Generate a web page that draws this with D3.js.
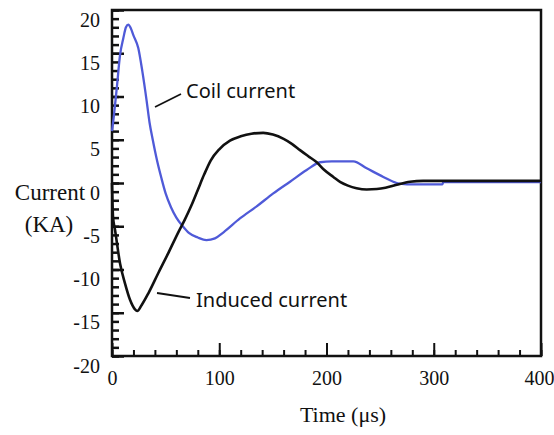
<!DOCTYPE html>
<html>
<head>
<meta charset="utf-8">
<script src="https://cdn.jsdelivr.net/npm/d3@7"></script>
<style>
  body { margin: 0; background: #fff; }
  .tick text { font-family: "Liberation Serif", "Times New Roman", serif; font-size: 20px; fill: #111; }
</style>
</head>
<body>
<div id="chart"></div>
<script>
// coil current (blue), time in µs / current in kA
const coilTime = [0, 1.5, 4.4, 7.5, 10.5, 13, 15.2, 17.5, 19.9, 24.5, 28.3, 32.3, 35, 38, 42, 46, 50, 55, 60, 66, 72, 80, 88, 96, 104, 119.3, 134.9, 150.4, 166, 181.5, 194, 205, 225, 237.5, 253, 265.5, 275, 308, 309, 400];
const coilCurrent = [6, 7.5, 10.9, 14.8, 16.7, 18, 18.3, 17.9, 17.1, 15.6, 12.9, 9.5, 7.0, 5.0, 2.6, 0.6, -1.2, -2.8, -4.0, -5.0, -5.8, -6.3, -6.6, -6.4, -5.7, -4.1, -2.7, -1.2, 0.15, 1.5, 2.4, 2.5, 2.5, 1.7, 0.7, 0, -0.15, -0.15, 0.1, 0.1];

// induced current (black)
const inducedTime = [0, 1, 2.8, 7.5, 12.1, 16.8, 21.4, 23.5, 27.7, 33.9, 43.2, 52.5, 61.8, 68, 74, 80, 86, 92, 100, 110, 120, 130, 141, 150, 160, 168, 175.3, 183, 190.9, 198, 206.4, 213, 220, 228, 237.5, 247, 255, 265.5, 277.9, 290, 400];
const inducedCurrent = [0, -4, -5.4, -9.3, -11.6, -13.5, -14.6, -14.8, -14.1, -12.75, -10.4, -8.1, -5.7, -4.2, -2.6, -0.8, 1.0, 2.6, 3.9, 4.9, 5.4, 5.7, 5.8, 5.6, 5.1, 4.5, 3.8, 3.1, 2.4, 1.5, 0.7, 0.1, -0.3, -0.6, -0.75, -0.7, -0.55, -0.2, 0.15, 0.25, 0.25];

const xTicks = [0, 100, 200, 300, 400];
const yTicks = [-20, -15, -10, -5, 0, 5, 10, 15, 20];

const width = 554, height = 435;
const margin = { left: 112, right: 13, top: 10, bottom: 79 };
const w = width - margin.left - margin.right;
const h = height - margin.top - margin.bottom;

const svg = d3.select('#chart').append('svg')
  .attr('width', width)
  .attr('height', height);

const g = svg.append('g')
  .attr('transform', `translate(${margin.left}, ${margin.top})`);

const x = d3.scaleLinear().domain([0, 400]).range([0, w]);
const y = d3.scaleLinear().domain([-20, 20]).range([h, 0]);

// minor ticks
g.append('g')
  .attr('transform', `translate(0, ${h})`)
  .call(d3.axisBottom(x).tickValues(d3.range(0, 401, 20)).tickSize(-6).tickFormat(''))
  .call(a => a.select('.domain').remove())
  .selectAll('line').attr('stroke', '#111').attr('stroke-width', 2);

g.append('g')
  .call(d3.axisLeft(y).tickValues(d3.range(-20, 21, 1)).tickSize(-7).tickFormat(''))
  .call(a => a.select('.domain').remove())
  .selectAll('line').attr('stroke', '#111').attr('stroke-width', 2.5);

// major ticks
const xAxis = g.append('g')
  .attr('transform', `translate(0, ${h})`)
  .call(d3.axisBottom(x).tickValues(xTicks).tickSize(-13).tickPadding(15).tickFormat(d => String(d)));
xAxis.select('.domain').remove();
xAxis.selectAll('line').attr('stroke', '#111').attr('stroke-width', 2);
xAxis.selectAll('text').filter(d => d === 400).attr('dx', -2);

const yAxis = g.append('g')
  .call(d3.axisLeft(y).tickValues(yTicks).tickSize(-12).tickPadding(12).tickFormat(d => String(d)));
yAxis.select('.domain').remove();
yAxis.selectAll('line').attr('stroke', '#111').attr('stroke-width', 2.5);
yAxis.selectAll('text').attr('dy', '0.8em');

// frame
g.append('rect')
  .attr('width', w)
  .attr('height', h)
  .attr('fill', 'none')
  .attr('stroke', '#111')
  .attr('stroke-width', 2.5);

const line = d3.line()
  .x(d => x(d[0]))
  .y(d => y(d[1]))
  .curve(d3.curveMonotoneX);

g.append('path')
  .datum(d3.zip(coilTime, coilCurrent))
  .attr('fill', 'none')
  .attr('stroke', '#4f5ad8')
  .attr('stroke-width', 2.3)
  .attr('d', line);

g.append('path')
  .datum(d3.zip(inducedTime, inducedCurrent))
  .attr('fill', 'none')
  .attr('stroke', '#111')
  .attr('stroke-width', 2.6)
  .attr('d', line);

// annotations
const sans = '"Noto Sans", "Open Sans", sans-serif';
svg.append('line')
  .attr('x1', 155).attr('y1', 107).attr('x2', 181).attr('y2', 94)
  .attr('stroke', '#111').attr('stroke-width', 1.8);
svg.append('text')
  .attr('x', 186).attr('y', 98)
  .attr('font-family', sans).attr('font-size', 20).attr('fill', '#111')
  .text('Coil current');

svg.append('line')
  .attr('x1', 157).attr('y1', 293).attr('x2', 190).attr('y2', 298)
  .attr('stroke', '#111').attr('stroke-width', 1.8);
svg.append('text')
  .attr('x', 196).attr('y', 307)
  .attr('font-family', sans).attr('font-size', 20).attr('fill', '#111')
  .text('Induced current');

// axis titles
const serif = '"Liberation Serif", "Times New Roman", serif';
svg.append('text')
  .attr('x', 50).attr('y', 200)
  .attr('text-anchor', 'middle')
  .attr('font-family', serif).attr('font-size', 23).attr('fill', '#111')
  .text('Current');
svg.append('text')
  .attr('x', 49).attr('y', 232)
  .attr('text-anchor', 'middle')
  .attr('font-family', serif).attr('font-size', 23).attr('fill', '#111')
  .text('(KA)');
svg.append('text')
  .attr('x', 343).attr('y', 422)
  .attr('text-anchor', 'middle')
  .attr('font-family', serif).attr('font-size', 22).attr('fill', '#111')
  .text('Time (μs)');
</script>
</body>
</html>
